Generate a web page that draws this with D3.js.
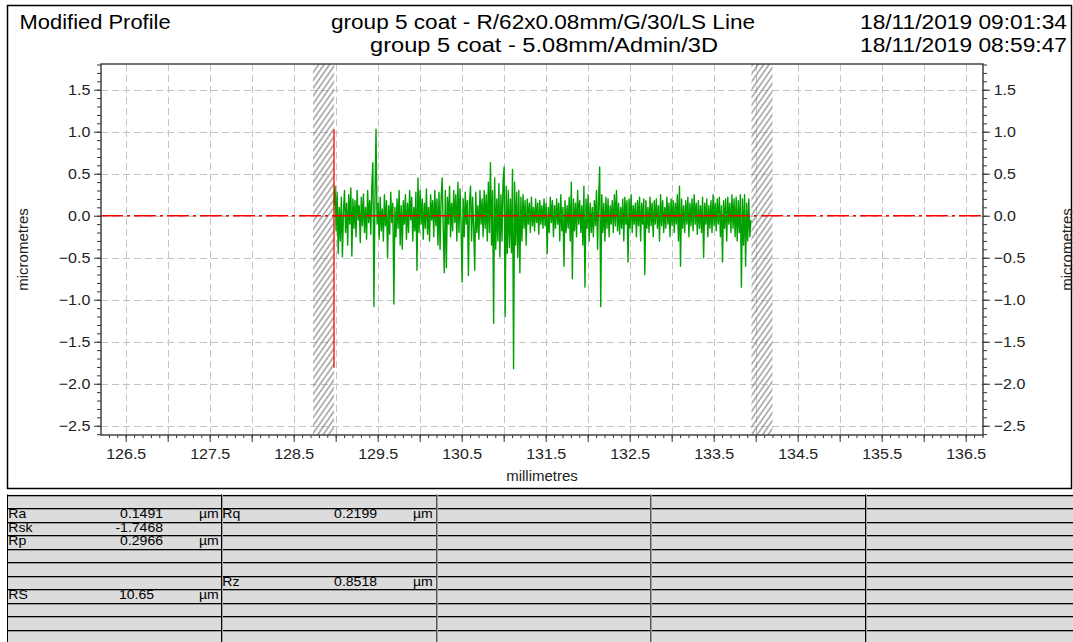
<!DOCTYPE html>
<html>
<head>
<meta charset="utf-8">
<script src="https://cdn.jsdelivr.net/npm/d3@7/dist/d3.min.js"></script>
<style>
  html, body { margin: 0; padding: 0; background: #fff; }
  svg { display: block; font-family: "Liberation Sans", Arial, sans-serif; }
</style>
</head>
<body>
<svg id="chart" width="1073" height="642"></svg>
<script>
// header texts
const chartTitle = 'Modified Profile';
const headerTitles = ['group 5 coat - R/62x0.08mm/G/30/LS Line', 'group 5 coat - 5.08mm/Admin/3D'];
const headerDates = ['18/11/2019 09:01:34', '18/11/2019 08:59:47'];

// axes
const xTickLabels = [126.5, 127.5, 128.5, 129.5, 130.5, 131.5, 132.5, 133.5, 134.5, 135.5, 136.5];
const yTickLabels = [1.5, 1.0, 0.5, 0.0, -0.5, -1.0, -1.5, -2.0, -2.5];
const xTitle = 'millimetres';
const yTitle = 'micrometres';

// excluded (hatched) zones in mm, and the peak-to-valley marker
const excludedZones = [[128.73, 128.98], [133.95, 134.2]];
const markerX = 128.98;
const markerRange = [1.03, -1.81];

// profile samples (micrometres), every 0.0125 mm
const profileStart = 128.98;
const profileStep = 0.0125;
const profile = [
  0.12, 0.35, -0.18, 0.28, -0.45, 0.1, -0.3, 0.22, -0.49, 0.05, 0.3, -0.2, 0.15, -0.35, 0.25, -0.1, 0.33, -0.48, 0.2, -0.15,
  0.18, -0.25, 0.3, -0.05, 0.12, -0.32, 0.22, -0.12, 0.26, -0.2, 0.1, -0.28, 0.3, -0.08, 0.18, -0.22, 0.35, 0.63, -1.08, 0.2,
  1.03, -0.1, 0.15, -0.28, 0.22, -0.18, 0.08, -0.3, 0.25, -0.12, 0.18, -0.5, 0.12, -0.22, 0.28, -0.08, 0.15, -1.05, 0.1, -0.25,
  0.2, -0.15, 0.3, -0.35, 0.12, -0.4, 0.18, -0.1, 0.25, -0.28, 0.15, -0.2, 0.3, -0.05, 0.22, -0.3, 0.1, -0.18, 0.28, -0.65,
  0.45, -0.2, 0.3, -0.1, 0.2, -0.28, 0.15, -0.15, 0.32, -0.22, 0.1, -0.3, 0.25, -0.05, 0.18, -0.25, 0.3, -0.12, 0.2, -0.35,
  0.28, -0.4, 0.2, 0.45, -0.15, -0.68, 0.3, -0.62, 0.22, -0.1, 0.35, -0.25, 0.15, -0.18, 0.3, -0.08, 0.25, -0.3, 0.4, -0.2,
  0.32, -0.12, -0.79, 0.2, -0.25, 0.28, -0.1, 0.18, -0.71, 0.15, 0.35, -0.3, 0.22, -0.15, -0.65, 0.28, -0.2, 0.12, -0.28, 0.3,
  -0.1, 0.2, -0.25, 0.3, -0.15, 0.25, -0.3, 0.4, -0.2, 0.63, -0.35, 0.3, -1.28, 0.45, -0.4, 0.2, -0.3, 0.38, -0.49, 0.25,
  -0.3, 0.42, 0.58, -1.2, 0.35, -0.45, 0.3, -0.38, 0.2, -0.44, 0.55, -1.82, 0.4, -0.35, 0.28, -0.5, 0.3, -0.68, 0.22, -0.3,
  0.25, -0.15, 0.18, -0.35, 0.2, -0.1, 0.15, -0.2, 0.22, -0.12, 0.1, -0.18, 0.2, -0.08, 0.15, -0.22, 0.18, -0.1, 0.12, -0.15,
  0.2, -0.12, 0.15, -0.45, 0.1, -0.2, 0.22, -0.08, 0.18, -0.25, 0.12, -0.15, 0.2, -0.1, 0.15, -0.3, 0.25, -0.18, 0.1, -0.6,
  0.18, -0.2, 0.12, -0.15, 0.22, -0.3, 0.4, -0.75, 0.2, -0.18, 0.15, -0.25, 0.3, -0.1, 0.18, -0.2, 0.12, -0.35, 0.35, -0.85,
  0.2, -0.15, 0.25, -0.3, 0.15, -0.2, 0.1, -0.25, 0.18, -0.12, 0.3, -0.4, 0.2, 0.58, -1.08, 0.25, -0.2, 0.15, -0.3, 0.22,
  -0.15, 0.2, -0.25, 0.12, -0.1, 0.18, -0.2, 0.25, -0.12, 0.3, -0.18, 0.15, -0.22, 0.1, -0.15, 0.2, -0.3, 0.22, -0.1, 0.18,
  -0.55, 0.2, -0.15, 0.25, -0.2, 0.12, -0.1, 0.15, -0.25, 0.18, -0.12, 0.22, -0.3, 0.15, -0.1, 0.2, -0.7, 0.18, -0.15, 0.1,
  -0.2, 0.22, -0.12, 0.15, -0.25, 0.18, -0.1, 0.2, -0.15, 0.12, -0.3, 0.25, -0.12, 0.18, -0.2, 0.1, -0.15, 0.22, -0.1, 0.15,
  -0.25, 0.2, -0.12, 0.18, -0.2, 0.15, -0.1, 0.25, -0.3, 0.35, -0.6, 0.2, -0.15, 0.12, -0.2, 0.18, -0.1, 0.22, -0.25, 0.15,
  -0.12, 0.2, -0.18, 0.25, -0.1, 0.15, -0.22, 0.18, -0.15, 0.12, -0.2, 0.22, -0.5, 0.15, -0.1, 0.2, -0.25, 0.12, -0.15, 0.18,
  -0.2, 0.25, -0.12, 0.15, -0.18, 0.2, -0.1, 0.22, -0.25, 0.12, -0.55, 0.18, -0.15, 0.2, -0.3, 0.22, -0.1, 0.15, -0.2, 0.25,
  -0.15, 0.2, -0.25, 0.22, -0.3, 0.18, -0.2, 0.25, -0.85, 0.2, -0.35, 0.25, -0.6, 0.15, -0.3, 0.2, -0.25, -0.05
];

// parameter table, one entry per row: [name, value, unit]
const tableCol1 = [[], ['Ra', '0.1491', 'µm'], ['Rsk', '-1.7468', ''], ['Rp', '0.2966', 'µm'], [], [], [], ['RS', '10.65', 'µm'], [], [], []];
const tableCol2 = [[], ['Rq', '0.2199', 'µm'], [], [], [], [], ['Rz', '0.8518', 'µm'], [], [], [], []];

const svg = d3.select('#chart');
const plot = { left: 101, right: 983, top: 64, bottom: 435 };

const x = d3.scaleLinear().domain([126.206, 136.706]).range([plot.left, plot.right]);
const y = d3.scaleLinear().domain([-2.61, 1.806]).range([plot.bottom, plot.top]);

// text drawn a little wider than the stock font, like the original renderer
function wideText(g, tx, ty, str, size, sx, anchor) {
  return g.append('text')
    .attr('transform', `translate(${tx},${ty}) scale(${sx},1)`)
    .attr('text-anchor', anchor || 'start')
    .attr('font-size', size)
    .text(str);
}

// outer frame
svg.append('rect')
  .attr('x', 7.5).attr('y', 5.5)
  .attr('width', 1064).attr('height', 483)
  .attr('fill', '#fff')
  .attr('stroke', '#000')
  .attr('stroke-width', 1.5);

// header
const header = svg.append('g').attr('font-size', 19.5).attr('fill', '#000');
header.append('text').attr('x', 19.6).attr('y', 29)
  .attr('textLength', 151).attr('lengthAdjust', 'spacingAndGlyphs')
  .text(chartTitle);
header.append('text').attr('x', 331).attr('y', 29)
  .attr('textLength', 424).attr('lengthAdjust', 'spacingAndGlyphs')
  .text(headerTitles[0]);
header.append('text').attr('x', 370).attr('y', 52)
  .attr('textLength', 348).attr('lengthAdjust', 'spacingAndGlyphs')
  .text(headerTitles[1]);
headerDates.forEach((d, i) => {
  header.append('text').attr('x', 860).attr('y', 29 + i * 23)
    .attr('textLength', 207).attr('lengthAdjust', 'spacingAndGlyphs')
    .text(d);
});

// grid
const xGrid = d3.range(126.5, 136.51, 0.5);
const yGrid = d3.range(-2.5, 1.51, 0.5);
const grid = svg.append('g')
  .attr('stroke', '#c4c4c4')
  .attr('stroke-width', 1)
  .attr('stroke-dasharray', '7,4');
grid.selectAll('.vg').data(xGrid).join('line')
  .attr('x1', (d) => Math.round(x(d)) + 0.5).attr('x2', (d) => Math.round(x(d)) + 0.5)
  .attr('y1', plot.top).attr('y2', plot.bottom);
grid.selectAll('.hg').data(yGrid).join('line')
  .attr('x1', plot.left).attr('x2', plot.right)
  .attr('y1', (d) => Math.round(y(d)) + 0.5).attr('y2', (d) => Math.round(y(d)) + 0.5);

// hatched zones
const defs = svg.append('defs');
defs.append('pattern')
  .attr('id', 'hatch')
  .attr('patternUnits', 'userSpaceOnUse')
  .attr('width', 4.5).attr('height', 4.5)
  .attr('patternTransform', 'rotate(35)')
  .append('line')
  .attr('x1', 1).attr('y1', 0).attr('x2', 1).attr('y2', 4.5)
  .attr('stroke', '#6e6e6e')
  .attr('stroke-width', 1);

svg.append('g').selectAll('rect').data(excludedZones).join('rect')
  .attr('x', (d) => x(d[0]))
  .attr('width', (d) => x(d[1]) - x(d[0]))
  .attr('y', plot.top)
  .attr('height', plot.bottom - plot.top)
  .attr('fill', 'url(#hatch)');

// profile
const line = d3.line()
  .x((d, i) => x(profileStart + i * profileStep))
  .y((d) => y(d));

svg.append('path')
  .datum(profile)
  .attr('fill', 'none')
  .attr('stroke', '#00a000')
  .attr('stroke-width', 1.4)
  .attr('stroke-linejoin', 'round')
  .attr('d', line);

// zero reference line
svg.append('line')
  .attr('x1', plot.left).attr('x2', plot.right)
  .attr('y1', y(0)).attr('y2', y(0))
  .attr('stroke', '#ff0000')
  .attr('stroke-width', 1.5)
  .attr('stroke-dasharray', '22,4,3,4');

// peak-to-valley marker
svg.append('line')
  .attr('x1', x(markerX)).attr('x2', x(markerX))
  .attr('y1', y(markerRange[0])).attr('y2', y(markerRange[1]))
  .attr('stroke', '#ff0000')
  .attr('stroke-width', 1.3);

// plot frame
svg.append('rect')
  .attr('x', plot.left).attr('y', plot.top)
  .attr('width', plot.right - plot.left).attr('height', plot.bottom - plot.top)
  .attr('fill', 'none')
  .attr('stroke', '#444')
  .attr('stroke-width', 1.5);

// axes
const xMinor = d3.range(126.3, 136.71, 0.1).map((d) => Math.round(d * 10) / 10);
const yMinor = d3.range(-2.6, 1.81, 0.1).map((d) => Math.round(d * 10) / 10);
const xMajor = d3.range(126.5, 136.51, 0.5);
const fmt = d3.format('.1f');

const styleAxis = (g) => {
  g.select('.domain').remove();
  g.selectAll('.tick line').attr('stroke', '#333');
  g.selectAll('text')
    .attr('fill', '#222')
    .attr('font-size', 15)
    .attr('font-family', '"Liberation Sans", Arial, sans-serif')
    .attr('transform', 'scale(1.07,1)');
};

svg.append('g')
  .attr('transform', `translate(0,${plot.bottom})`)
  .call(d3.axisBottom(x).tickValues(xMinor).tickSize(3).tickFormat(''))
  .call(styleAxis);
svg.append('g')
  .attr('transform', `translate(0,${plot.bottom})`)
  .call(d3.axisBottom(x).tickValues(xMajor).tickSize(7).tickPadding(6)
    .tickFormat((d) => (xTickLabels.includes(d) ? fmt(d) : '')))
  .call(styleAxis);

[[plot.left, d3.axisLeft], [plot.right, d3.axisRight]].forEach(([pos, axis]) => {
  svg.append('g')
    .attr('transform', `translate(${pos},0)`)
    .call(axis(y).tickValues(yMinor).tickSize(4).tickFormat(''))
    .call(styleAxis);
  svg.append('g')
    .attr('transform', `translate(${pos},0)`)
    .call(axis(y).tickValues(yTickLabels).tickSize(7).tickPadding(3).tickFormat(fmt))
    .call(styleAxis);
});

// axis titles
svg.append('text')
  .attr('x', (plot.left + plot.right) / 2).attr('y', 481)
  .attr('text-anchor', 'middle')
  .attr('font-size', 15)
  .attr('fill', '#222')
  .text(xTitle);
[28, 1071.5].forEach((bx) => {
  svg.append('text')
    .attr('transform', `translate(${bx},${(plot.top + plot.bottom) / 2}) rotate(-90)`)
    .attr('text-anchor', 'middle')
    .attr('font-size', 15)
    .attr('fill', '#222')
    .text(yTitle);
});

// parameter table
const tableTop = 494.5;
const rowH = 13.5;
const colX = [7, 221, 436, 650, 865];
const table = svg.append('g');
table.append('rect')
  .attr('x', 7).attr('y', tableTop)
  .attr('width', 1073 - 7).attr('height', 642 - tableTop)
  .attr('fill', '#dcdcdc');

const rowLines = d3.range(0, 11).map((k) => tableTop + k * rowH);
table.selectAll('.rg').data(rowLines).join('line')
  .attr('x1', 7).attr('x2', 1073)
  .attr('y1', (d) => Math.round(d) + 1.5).attr('y2', (d) => Math.round(d) + 1.5)
  .attr('stroke', '#9a9a9a');
table.selectAll('.rb').data(rowLines).join('line')
  .attr('x1', 7).attr('x2', 1073)
  .attr('y1', (d) => Math.round(d) + 0.5).attr('y2', (d) => Math.round(d) + 0.5)
  .attr('stroke', '#000');
table.selectAll('.cl').data(colX).join('line')
  .attr('x1', (d) => d + 0.5).attr('x2', (d) => d + 0.5)
  .attr('y1', tableTop).attr('y2', 642)
  .attr('stroke', (d, i) => (i === 2 || i === 3 ? '#555' : '#000'));
table.selectAll('.cg').data(colX.slice(1)).join('line')
  .attr('x1', (d) => d + 1.5).attr('x2', (d) => d + 1.5)
  .attr('y1', tableTop).attr('y2', 642)
  .attr('stroke', '#a0a0a0');

[tableCol1, tableCol2].forEach((col, c) => {
  const x0 = colX[c];
  col.forEach((row, k) => {
    if (!row.length) return;
    const by = tableTop + k * rowH + 10.3;
    const [name, value, unit] = row;
    const g = table.append('g').attr('fill', '#000');
    wideText(g, x0 + 1.3, by, name, 13, 1.08);
    wideText(g, x0 + (name === 'RS' ? 147 : 156), by, value, 13, 1.08, 'end');
    if (unit) wideText(g, x0 + 192, by, unit, 13, 1.08);
  });
});
</script>
</body>
</html>
